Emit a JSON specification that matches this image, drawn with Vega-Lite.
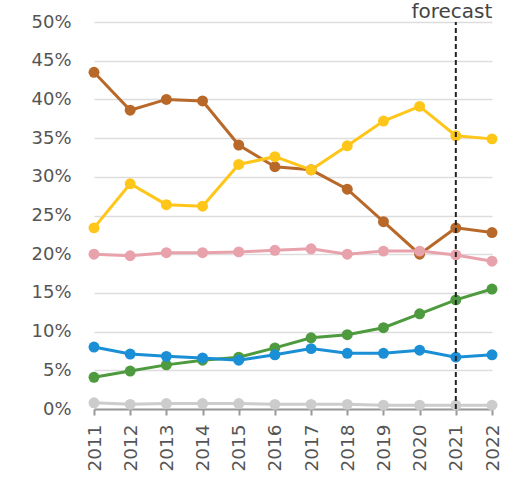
{
  "$schema": "https://vega.github.io/schema/vega-lite/v6.json",
  "width": 398,
  "height": 387,
  "autosize": {"type": "none"},
  "padding": {"left": 94, "top": 22, "right": 15, "bottom": 72},
  "config": {
    "view": {"stroke": null},
    "font": "DejaVu Sans",
    "axis": {"labelFont": "DejaVu Sans", "labelColor": "#555", "labelOverlap": false},
    "axisY": {"title": null, "values": [0, 5, 10, 15, 20, 25, 30, 35, 40, 45, 50], "labelFontSize": 18, "domain": false, "ticks": false, "labelPadding": 23, "gridColor": "#ddd", "gridWidth": 1.5}
  },
  "datasets": {
    "series": [
      {"year": 2011, "s": "brown", "v": 43.5}, {"year": 2012, "s": "brown", "v": 38.6}, {"year": 2013, "s": "brown", "v": 40.0}, {"year": 2014, "s": "brown", "v": 39.8}, {"year": 2015, "s": "brown", "v": 34.1}, {"year": 2016, "s": "brown", "v": 31.3}, {"year": 2017, "s": "brown", "v": 30.9}, {"year": 2018, "s": "brown", "v": 28.4}, {"year": 2019, "s": "brown", "v": 24.2}, {"year": 2020, "s": "brown", "v": 20.0}, {"year": 2021, "s": "brown", "v": 23.4}, {"year": 2022, "s": "brown", "v": 22.8},
      {"year": 2011, "s": "yellow", "v": 23.4}, {"year": 2012, "s": "yellow", "v": 29.1}, {"year": 2013, "s": "yellow", "v": 26.4}, {"year": 2014, "s": "yellow", "v": 26.2}, {"year": 2015, "s": "yellow", "v": 31.6}, {"year": 2016, "s": "yellow", "v": 32.6}, {"year": 2017, "s": "yellow", "v": 30.9}, {"year": 2018, "s": "yellow", "v": 34.0}, {"year": 2019, "s": "yellow", "v": 37.2}, {"year": 2020, "s": "yellow", "v": 39.1}, {"year": 2021, "s": "yellow", "v": 35.3}, {"year": 2022, "s": "yellow", "v": 34.9},
      {"year": 2011, "s": "pink", "v": 20.0}, {"year": 2012, "s": "pink", "v": 19.8}, {"year": 2013, "s": "pink", "v": 20.2}, {"year": 2014, "s": "pink", "v": 20.2}, {"year": 2015, "s": "pink", "v": 20.3}, {"year": 2016, "s": "pink", "v": 20.5}, {"year": 2017, "s": "pink", "v": 20.7}, {"year": 2018, "s": "pink", "v": 20.0}, {"year": 2019, "s": "pink", "v": 20.4}, {"year": 2020, "s": "pink", "v": 20.4}, {"year": 2021, "s": "pink", "v": 19.9}, {"year": 2022, "s": "pink", "v": 19.1},
      {"year": 2011, "s": "green", "v": 4.1}, {"year": 2012, "s": "green", "v": 4.9}, {"year": 2013, "s": "green", "v": 5.7}, {"year": 2014, "s": "green", "v": 6.3}, {"year": 2015, "s": "green", "v": 6.7}, {"year": 2016, "s": "green", "v": 7.9}, {"year": 2017, "s": "green", "v": 9.2}, {"year": 2018, "s": "green", "v": 9.6}, {"year": 2019, "s": "green", "v": 10.5}, {"year": 2020, "s": "green", "v": 12.3}, {"year": 2021, "s": "green", "v": 14.1}, {"year": 2022, "s": "green", "v": 15.5},
      {"year": 2011, "s": "blue", "v": 8.0}, {"year": 2012, "s": "blue", "v": 7.1}, {"year": 2013, "s": "blue", "v": 6.8}, {"year": 2014, "s": "blue", "v": 6.6}, {"year": 2015, "s": "blue", "v": 6.3}, {"year": 2016, "s": "blue", "v": 7.0}, {"year": 2017, "s": "blue", "v": 7.8}, {"year": 2018, "s": "blue", "v": 7.2}, {"year": 2019, "s": "blue", "v": 7.2}, {"year": 2020, "s": "blue", "v": 7.6}, {"year": 2021, "s": "blue", "v": 6.7}, {"year": 2022, "s": "blue", "v": 7.0},
      {"year": 2011, "s": "gray", "v": 0.8}, {"year": 2012, "s": "gray", "v": 0.6}, {"year": 2013, "s": "gray", "v": 0.7}, {"year": 2014, "s": "gray", "v": 0.7}, {"year": 2015, "s": "gray", "v": 0.7}, {"year": 2016, "s": "gray", "v": 0.6}, {"year": 2017, "s": "gray", "v": 0.6}, {"year": 2018, "s": "gray", "v": 0.6}, {"year": 2019, "s": "gray", "v": 0.5}, {"year": 2020, "s": "gray", "v": 0.5}, {"year": 2021, "s": "gray", "v": 0.5}, {"year": 2022, "s": "gray", "v": 0.5}
    ],
    "marker": [{"year": 2021, "label": "forecast", "lo": 0, "hi": 50}]
  },
  "layer": [
    {
      "data": {"name": "series"},
      "encoding": {
        "x": {
          "field": "year", "type": "ordinal",
          "scale": {"type": "point", "padding": 0},
          "axis": {"title": null, "labelAngle": -90, "labelFontSize": 18.5, "domainColor": "#999", "domainWidth": 2, "tickColor": "#999", "tickWidth": 2, "tickSize": 6, "labelPadding": 9, "grid": false}
        },
        "y": {
          "field": "v", "type": "quantitative",
          "scale": {"domain": [0, 50], "nice": false},
          "axis": {"title": null, "values": [0, 5, 10, 15, 20, 25, 30, 35, 40, 45, 50], "labelExpr": "datum.value + '%'"}
        },
        "color": {
          "field": "s", "type": "nominal", "legend": null,
          "scale": {"domain": ["brown", "yellow", "pink", "green", "blue", "gray"], "range": ["#B8692A", "#FFC61A", "#E8A2AC", "#4E9A3E", "#1A8FD6", "#CCCCCC"]}
        }
      },
      "layer": [
        {"mark": {"type": "line", "strokeWidth": 3}},
        {"mark": {"type": "circle", "size": 120, "opacity": 1}}
      ]
    },
    {
      "data": {"name": "marker"},
      "mark": {"type": "rule", "strokeDash": [5, 3], "strokeWidth": 2, "color": "#222"},
      "encoding": {
        "x": {"field": "year", "type": "ordinal"},
        "y": {"field": "lo", "type": "quantitative", "axis": {"title": null, "values": [0, 5, 10, 15, 20, 25, 30, 35, 40, 45, 50], "labelExpr": "datum.value + '%'"}},
        "y2": {"field": "hi"}
      }
    },
    {
      "data": {"name": "marker"},
      "mark": {"type": "text", "fontSize": 20, "color": "#444", "dy": -4, "dx": -4, "baseline": "alphabetic"},
      "encoding": {
        "x": {"field": "year", "type": "ordinal"},
        "y": {"field": "hi", "type": "quantitative", "axis": {"title": null, "values": [0, 5, 10, 15, 20, 25, 30, 35, 40, 45, 50], "labelExpr": "datum.value + '%'"}},
        "text": {"field": "label"}
      }
    }
  ]
}
